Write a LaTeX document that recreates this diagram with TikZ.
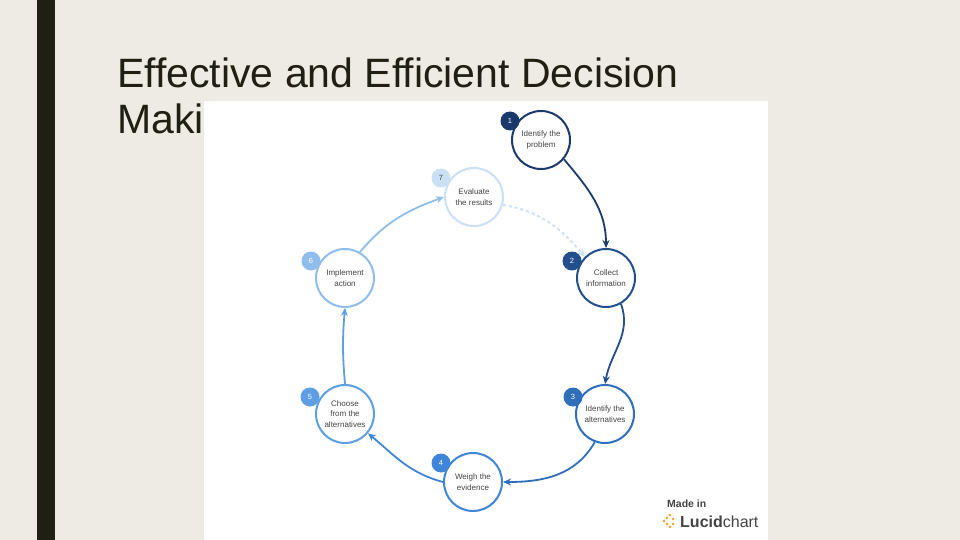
\documentclass[tikz,border=0pt]{standalone}
\usepackage{fontspec}
\setmainfont{Liberation Sans}
\usetikzlibrary{arrows.meta}
\definecolor{bg}{HTML}{EEEBE4}
\definecolor{bar}{HTML}{1F1F14}
\definecolor{cA}{HTML}{1B3A6B}
\definecolor{cB}{HTML}{23508C}
\definecolor{cC}{HTML}{2F6EBA}
\definecolor{cD}{HTML}{3F85D8}
\definecolor{cE}{HTML}{5E9EE2}
\definecolor{cF}{HTML}{8FBEEC}
\definecolor{cG}{HTML}{CBDFF5}
\definecolor{txt}{HTML}{444444}
\definecolor{luc}{HTML}{F29B26}
\tikzset{
 stepc/.style={circle,draw=#1,line width=2pt,fill=white,minimum size=58pt,inner sep=0pt,align=center,font=\fontsize{8}{10.5}\selectfont,text=txt},
 badge/.style={circle,fill=#1,minimum size=19pt,inner sep=0pt,font=\fontsize{7.5}{8}\selectfont,text=white},
 conn/.style={draw=#1,line width=1.8pt,-{Stealth[length=8pt,width=7pt]}},
}
\begin{document}
\begin{tikzpicture}[x=1pt,y=-1pt]
\fill[bg] (0,0) rectangle (960,540);
\useasboundingbox (0,0) rectangle (960,540);
\fill[bar] (37,0) rectangle (55,540);
\node[anchor=north west,align=left,font=\fontsize{41}{46}\selectfont,text=bar,inner sep=0pt] (title) at (117,58) {Effective and Efficient Decision\\Making};
\fill[white] (204,101) rectangle (768,540);
\node[stepc=cA] (n1) at (541,140) {Identify the\\problem};
\node[stepc=cB] (n2) at (606,278) {Collect\\information};
\node[stepc=cC] (n3) at (605,414) {Identify the\\alternatives};
\node[stepc=cD] (n4) at (473,482) {Weigh the\\evidence};
\node[stepc=cE] (n5) at (345,414) {Choose\\from the\\alternatives};
\node[stepc=cF] (n6) at (345,278) {Implement\\action};
\node[stepc=cG] (n7) at (474,197) {Evaluate\\the results};
\node[badge=cA] (b1) at (510,121) {1};
\node[badge=cB] (b2) at (572,261) {2};
\node[badge=cC] (b3) at (573,397) {3};
\node[badge=cD] (b4) at (441,463) {4};
\node[badge=cE] (b5) at (310,397) {5};
\node[badge=cF] (b6) at (311,261) {6};
\node[badge={cG}, text=txt] (b7) at (441,178) {7};
\draw[conn=cA] (n1.-40) to[out=-50,in=90] (n2.north);
\draw[conn=cB] (n2.-60) to[out=-70,in=80] (n3.north);
\draw[conn=cC] (n3.-110) to[out=-120,in=0] (n4.east);
\draw[conn=cD] (n4.west) to[out=165,in=-40] (n5.-40);
\draw[conn=cE] (n5.north) to[out=95,in=-95] (n6.south);
\draw[conn=cF] (n6.60) to[out=50,in=-160] (n7.west);
\draw[conn=cG,dashed] (n7.-15) to[out=-10,in=130] (n2.135);
\node[anchor=west,font=\fontsize{10.5}{12}\selectfont\bfseries,text=txt,inner sep=0pt] (made) at (667,504) {Made in};
\node[anchor=west,font=\fontsize{16}{18}\selectfont,text=txt,inner sep=0pt] (lc) at (680,522) {\textbf{Lucid}chart};
\foreach \p in {(670,515),(667,518),(664,521),(667,524),(670,527),(673,519),(673,524)} \fill[luc] \p circle (1.4);
\end{tikzpicture}
\end{document}
